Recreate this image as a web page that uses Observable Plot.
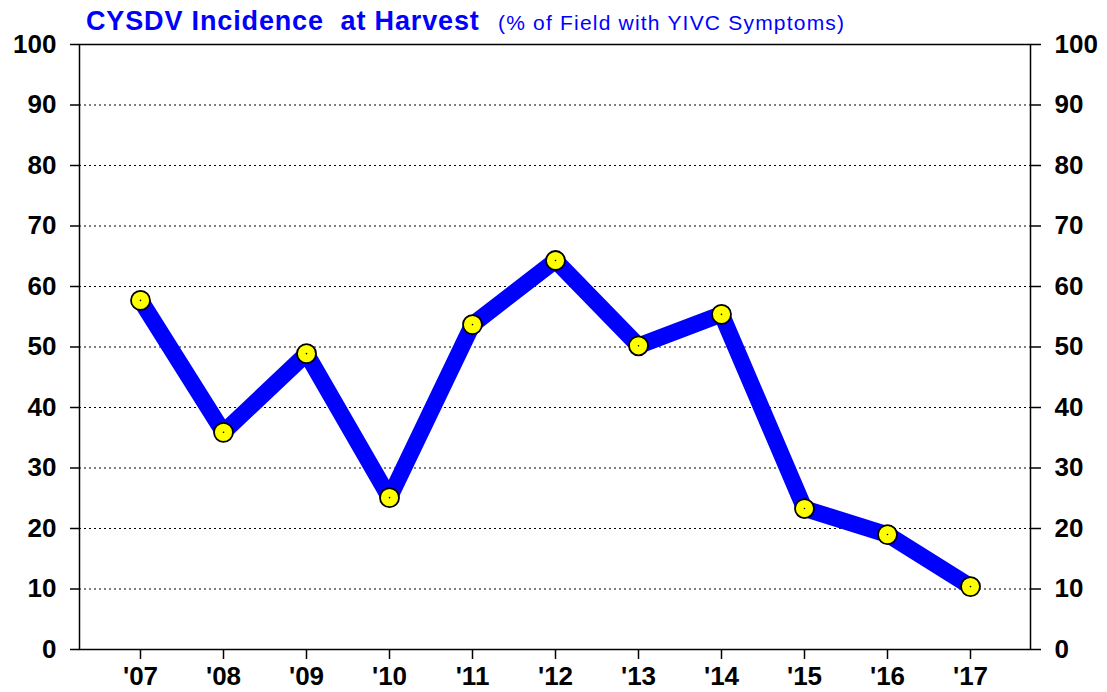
<!DOCTYPE html>
<html>
<head>
<meta charset="utf-8">
<script src="https://cdn.jsdelivr.net/npm/d3@7"></script>
<script src="https://cdn.jsdelivr.net/npm/@observablehq/plot@0.6"></script>
<style>
  html, body { margin: 0; padding: 0; background: white; }
  #wrap { position: relative; width: 1107px; height: 692px; font-family: Arial, "Liberation Sans", sans-serif; }
  #title { position: absolute; left: 86px; top: 8px; font-size: 27px; line-height: 27px; font-weight: bold; color: #0000ff; letter-spacing: 0.85px; white-space: pre; }
  #subtitle { position: absolute; left: 498px; top: 12px; font-size: 21px; line-height: 21px; color: #0000ff; letter-spacing: 1.2px; white-space: pre; }
  #chart { position: absolute; left: 0; top: 0; }
</style>
</head>
<body>
<div id="wrap">
  <div id="chart"></div>
  <div id="title">CYSDV Incidence  at Harvest</div>
  <div id="subtitle">(% of Field with YIVC Symptoms)</div>
</div>
<script>
const years = ["'07", "'08", "'09", "'10", "'11", "'12", "'13", "'14", "'15", "'16", "'17"];
const incidence = [57.7, 35.9, 48.9, 25.1, 53.7, 64.3, 50.2, 55.4, 23.3, 19.0, 10.4];
const yTicks = [0, 10, 20, 30, 40, 50, 60, 70, 80, 90, 100];
const gridTicks = [10, 20, 30, 40, 50, 60, 70, 80, 90];

const data = years.map((y, i) => ({year: y, value: incidence[i]}));

const axisFont = {fontSize: 26, fontWeight: "bold", fill: "black"};

const chart = Plot.plot({
  width: 1107,
  height: 692,
  marginLeft: 79,
  marginRight: 77,
  marginTop: 44,
  marginBottom: 43,
  style: {background: "white", fontFamily: "Arial, 'Liberation Sans', sans-serif", overflow: "visible"},
  x: {type: "point", domain: years, padding: 0.707},
  y: {domain: [0, 100]},
  marks: [
    Plot.gridY(gridTicks, {stroke: "black", strokeOpacity: 1, strokeWidth: 1, strokeDasharray: "2,3"}),
    Plot.frame({stroke: "black", strokeWidth: 1.5}),
    Plot.axisY(yTicks, {anchor: "left", tickSize: 9, tickPadding: 14, strokeWidth: 1.5, label: null, ...axisFont}),
    Plot.axisY(yTicks, {anchor: "right", tickSize: 10, tickPadding: 14, strokeWidth: 1.5, label: null, ...axisFont}),
    Plot.axisX({anchor: "bottom", tickSize: 10, tickPadding: 7, strokeWidth: 1.5, label: null, ...axisFont}),
    Plot.line(data, {x: "year", y: "value", stroke: "#0000ff", strokeWidth: 16.5, strokeLinejoin: "miter", strokeLinecap: "butt"}),
    Plot.dot(data, {x: "year", y: "value", r: 9.5, fill: "#ffff00", stroke: "black", strokeWidth: 1.8}),
    Plot.dot(data, {x: "year", y: "value", r: 0.8, fill: "black", stroke: null})
  ]
});
document.getElementById("chart").appendChild(chart);
</script>
</body>
</html>
